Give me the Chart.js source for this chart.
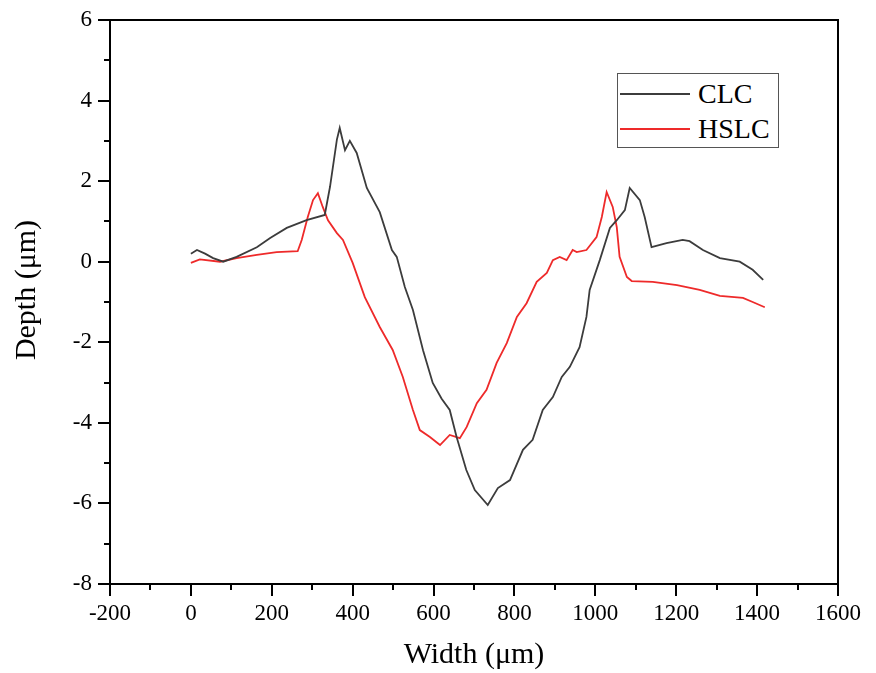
<!DOCTYPE html>
<html>
<head>
<meta charset="utf-8">
<script src="https://cdn.jsdelivr.net/npm/chart.js@4"></script>
<style>
  html, body { margin: 0; padding: 0; background: #fff; }
  #wrap { position: relative; width: 876px; height: 673px; }
  #legend {
    position: absolute; left: 617px; top: 73px; width: 162px; height: 75px;
    border: 1px solid #555; box-sizing: border-box; background: #fff;
    font-family: 'Liberation Serif', serif; font-size: 28px; color: #000;
  }
  .leg-row { position: absolute; left: 2px; height: 30px; display: flex; align-items: center; }
  .leg-line { width: 70px; height: 2px; margin-right: 8px; }
</style>
</head>
<body>
<div id="wrap">
  <canvas id="chart" width="876" height="673"></canvas>
  <div id="legend">
    <div class="leg-row" style="top:5px"><span class="leg-line" style="background:#3c3c3c"></span>CLC</div>
    <div class="leg-row" style="top:40px"><span class="leg-line" style="background:#ee2a2a"></span>HSLC</div>
  </div>
</div>
<script>
// CLC profile
const clcX = [0, 15, 35, 55, 80, 113, 163, 196, 237, 286, 331, 344, 361, 368, 381, 393, 410, 435, 467, 497, 509,
  529, 549, 574, 598, 620, 640, 657, 681, 702, 734, 759, 789, 821, 845, 870, 895, 917, 937, 961, 978, 986,
  1011, 1036, 1053, 1073, 1085, 1110, 1122, 1139, 1176, 1216, 1233, 1266, 1308, 1357, 1389, 1415];
const clcY = [0.2, 0.29, 0.2, 0.09, 0.0, 0.12, 0.36, 0.59, 0.84, 1.03, 1.16, 1.86, 3.03, 3.32, 2.77, 3.0, 2.7, 1.83, 1.23, 0.29, 0.12,
  -0.63, -1.2, -2.2, -3.01, -3.4, -3.68, -4.35, -5.17, -5.67, -6.04, -5.62, -5.42, -4.67, -4.42, -3.68, -3.36, -2.86, -2.61, -2.12, -1.37, -0.7,
  0.04, 0.84, 1.03, 1.28, 1.83, 1.53, 1.11, 0.36, 0.46, 0.54, 0.51, 0.29, 0.09, 0.0, -0.2, -0.45];

// HSLC profile
const hslcX = [0, 22, 72, 113, 163, 212, 264, 274, 289, 302, 314, 326, 339, 361, 376, 400, 430, 467, 499, 524, 549, 566,
  591, 616, 640, 665, 682, 707, 731, 756, 781, 806, 830, 855, 880, 895, 912, 929, 944, 954, 978, 1003, 1016, 1028,
  1043, 1053, 1060, 1078, 1090, 1142, 1202, 1258, 1308, 1365, 1389, 1419];
const hslcY = [-0.03, 0.06, 0.0, 0.09, 0.17, 0.24, 0.26, 0.54, 1.11, 1.53, 1.70, 1.36, 1.03, 0.71, 0.54, -0.03, -0.88, -1.62, -2.19, -2.86, -3.68, -4.18,
  -4.35, -4.55, -4.30, -4.38, -4.1, -3.51, -3.18, -2.51, -2.02, -1.37, -1.03, -0.5, -0.28, 0.04, 0.12, 0.04, 0.29, 0.24, 0.29, 0.61, 1.11, 1.73,
  1.36, 0.86, 0.12, -0.38, -0.48, -0.50, -0.58, -0.70, -0.85, -0.90, -1.0, -1.13];

const yTitle = 'Depth (μm)';

const toPts = (xs, ys) => xs.map((x, i) => ({x, y: ys[i]}));
const serif = "'Liberation Serif', 'Times New Roman', serif";

// frame + outward ticks (major long, minor short) + y title a bit above centre like the original
const frameTicks = {
  id: 'frameTicks',
  afterDraw(chart) {
    const {ctx, chartArea: a, scales: {x, y}} = chart;
    ctx.save();
    ctx.strokeStyle = '#000';
    ctx.lineWidth = 2;
    ctx.strokeRect(a.left, a.top, a.right - a.left, a.bottom - a.top);
    ctx.beginPath();
    x.ticks.forEach(t => {
      const px = Math.round(x.getPixelForValue(t.value));
      const len = t.value % 200 === 0 ? 12 : 6;
      ctx.moveTo(px, a.bottom); ctx.lineTo(px, a.bottom + len);
    });
    y.ticks.forEach(t => {
      const py = Math.round(y.getPixelForValue(t.value));
      const len = t.value % 2 === 0 ? 12 : 6;
      ctx.moveTo(a.left, py); ctx.lineTo(a.left - len, py);
    });
    ctx.stroke();

    ctx.translate(35, 290);
    ctx.rotate(-Math.PI / 2);
    ctx.fillStyle = '#000';
    ctx.font = `30px ${serif}`;
    ctx.textAlign = 'center';
    ctx.textBaseline = 'alphabetic';
    ctx.fillText(yTitle, 0, 0);
    ctx.restore();
  }
};

new Chart(document.getElementById('chart'), {
  type: 'scatter',
  data: {
    datasets: [
      {label: 'CLC', data: toPts(clcX, clcY), showLine: true, borderColor: '#3c3c3c', borderWidth: 1.8, pointRadius: 0, tension: 0},
      {label: 'HSLC', data: toPts(hslcX, hslcY), showLine: true, borderColor: '#ee2a2a', borderWidth: 1.8, pointRadius: 0, tension: 0},
    ]
  },
  options: {
    responsive: false,
    animation: false,
    layout: { padding: { top: 20, right: 38, left: 0, bottom: 0 } },
    plugins: { legend: { display: false }, tooltip: { enabled: false } },
    scales: {
      x: {
        type: 'linear', min: -200, max: 1600,
        afterFit: s => { s.height = 89; },
        grid: { drawOnChartArea: false, color: 'rgba(0,0,0,0)', tickLength: 12 },
        border: { display: false },
        ticks: { stepSize: 100, autoSkip: false, maxRotation: 0, padding: 4, color: '#000',
          font: { family: serif, size: 23 },
          callback: v => v % 200 === 0 ? v : '' },
        title: { display: true, text: 'Width (μm)', color: '#000', font: { family: serif, size: 30 }, padding: 0 }
      },
      y: {
        type: 'linear', min: -8, max: 6,
        afterFit: s => { s.width = 110; },
        grid: { drawOnChartArea: false, color: 'rgba(0,0,0,0)', tickLength: 12 },
        border: { display: false },
        ticks: { stepSize: 1, autoSkip: false, padding: 6, color: '#000',
          font: { family: serif, size: 23 },
          callback: v => v % 2 === 0 ? v : '' },
        title: { display: false }
      }
    }
  },
  plugins: [frameTicks]
});
</script>
</body>
</html>
